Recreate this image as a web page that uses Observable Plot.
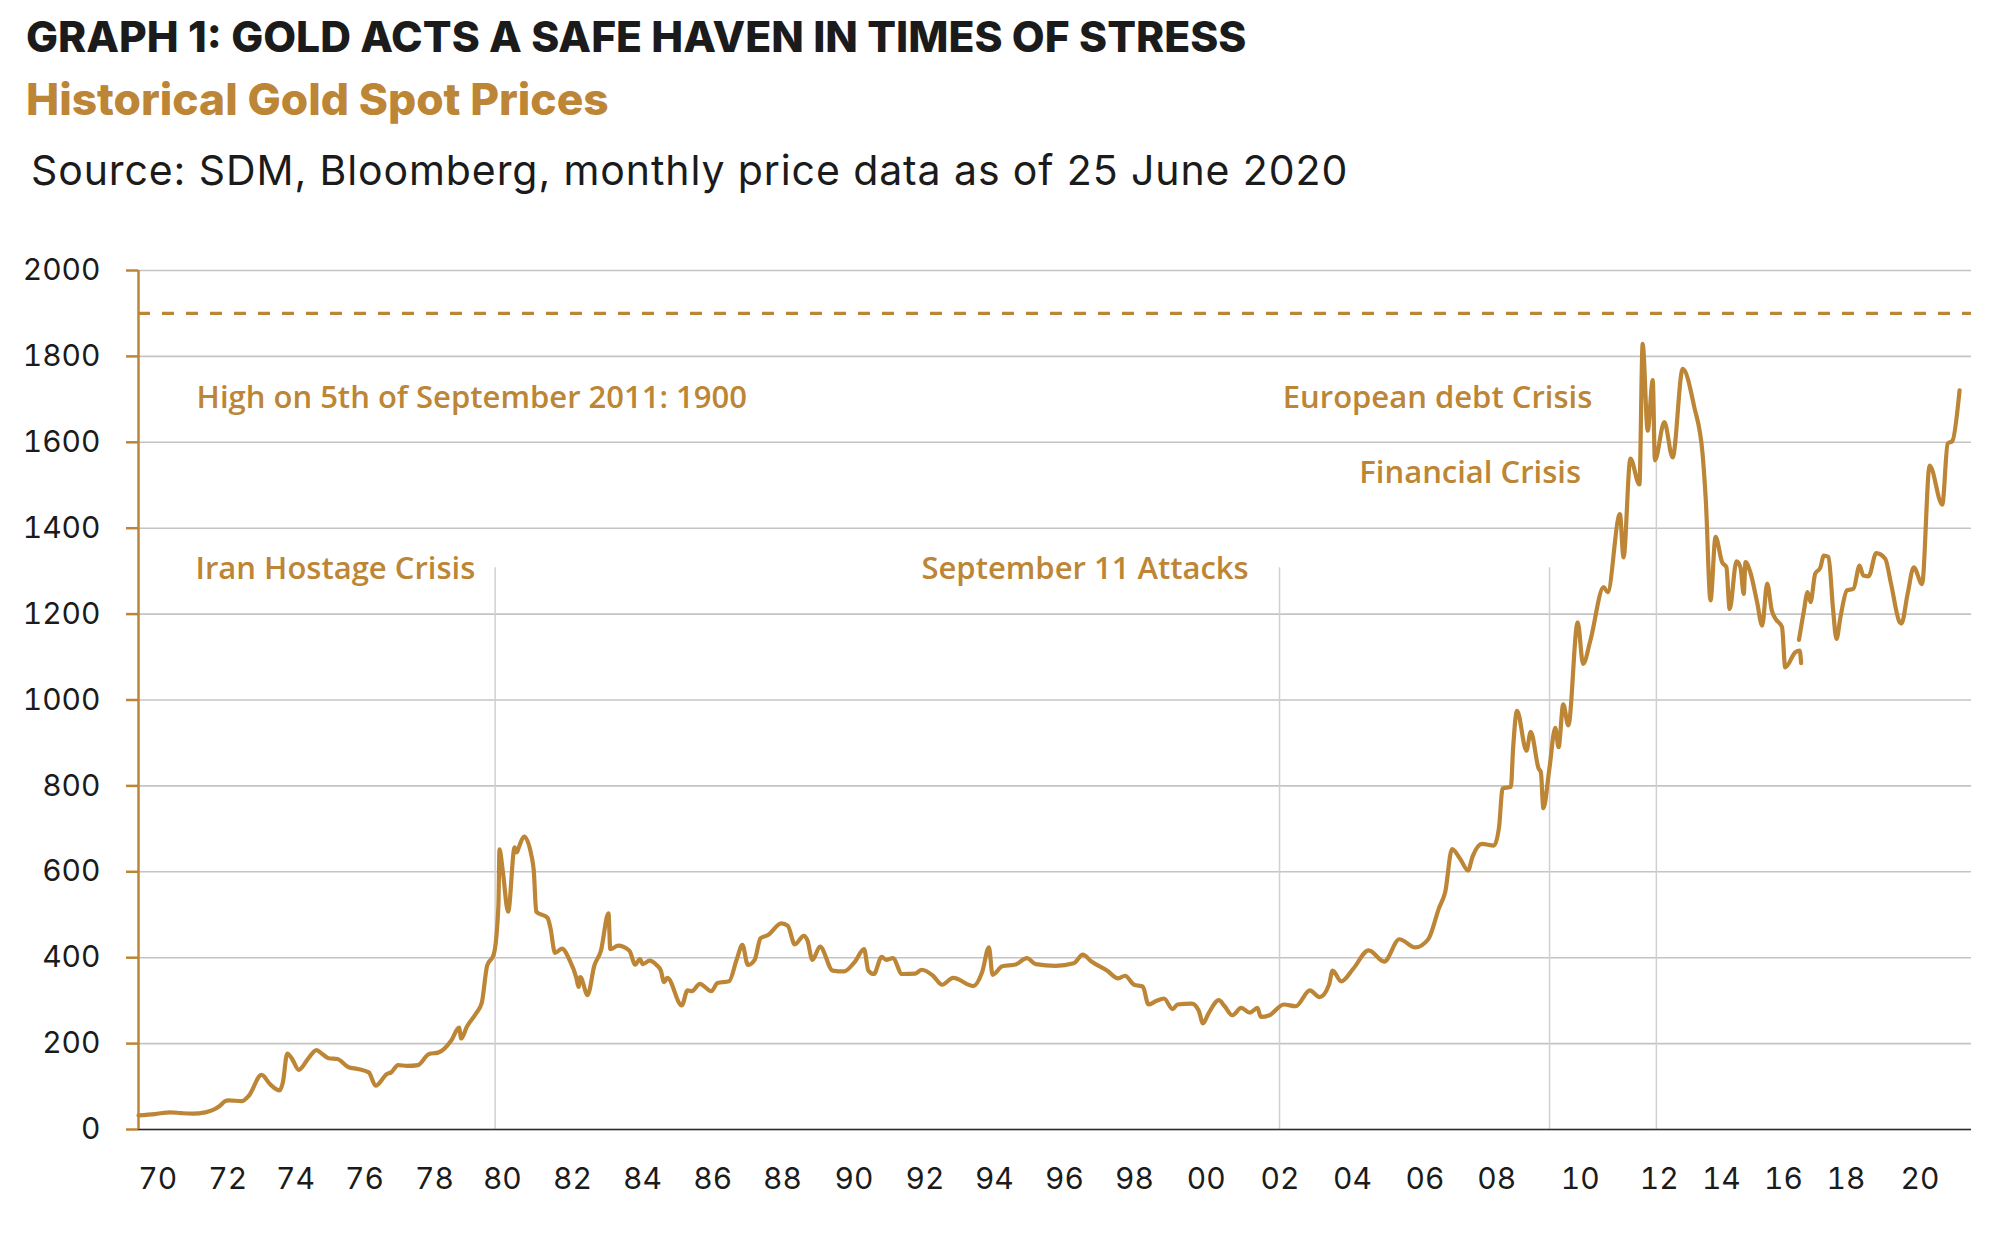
<!DOCTYPE html>
<html><head><meta charset="utf-8">
<script src="https://cdn.jsdelivr.net/npm/d3@7"></script>
<script src="https://cdn.jsdelivr.net/npm/@observablehq/plot@0.6"></script>
<style>
body{margin:0;background:#fff;}
#wrap{position:relative;width:2000px;}
#header{position:relative;height:220px;}
.t{position:absolute;white-space:nowrap;line-height:1;}
#title{left:26px;top:16px;font-family:Inter,sans-serif;font-weight:800;font-size:42.6px;color:#1b1b1b;}
#subtitle{left:26px;top:77px;font-family:Inter,sans-serif;font-weight:800;font-size:44.3px;color:#bd8536;}
#source{left:31px;top:150px;font-family:Inter,sans-serif;font-weight:400;font-size:41px;letter-spacing:0.9px;color:#1b1b1b;}
</style></head>
<body>
<div id="wrap">
  <div id="header">
    <div class="t" id="title">GRAPH 1: GOLD ACTS A SAFE HAVEN IN TIMES OF STRESS</div>
    <div class="t" id="subtitle">Historical Gold Spot Prices</div>
    <div class="t" id="source">Source: SDM, Bloomberg, monthly price data as of 25 June 2020</div>
  </div>
  <div id="chart"></div>
</div>
<script>
// ---- data (decimal year, USD/oz); NaN marks the break in the line ----
const years = [
1970.00,1970.45,1970.88,1971.20,1971.50,1971.85,1972.05,1972.24,1972.40,1972.49,1972.86,1973.05,1973.41,1973.65,1973.91,1974.00,1974.12,1974.25,1974.44,1974.70,1974.93,1975.10,1975.27,1975.51,1975.82,1976.07,1976.38,1976.57,1976.88,1977.00,1977.19,1977.45,1977.74,1978.05,1978.30,1978.67,1978.88,1978.94,1979.10,1979.35,1979.51,1979.66,1979.84,1979.97,1980.00,1980.09,1980.24,1980.42,1980.48,1980.55,1980.68,1980.89,1980.95,1981.02,1981.33,1981.41,1981.54,1981.73,1981.94,1982.13,1982.19,1982.24,1982.44,1982.63,1982.81,1983.02,1983.07,1983.29,1983.60,1983.76,1983.89,1983.97,1984.16,1984.35,1984.47,1984.56,1984.65,1985.05,1985.21,1985.33,1985.55,1985.87,1986.04,1986.36,1986.57,1986.73,1986.88,1987.07,1987.23,1987.44,1987.81,1987.99,1988.18,1988.43,1988.53,1988.67,1988.88,1989.23,1989.54,1989.85,1990.10,1990.22,1990.37,1990.59,1990.71,1990.90,1991.15,1991.52,1991.70,1992.01,1992.26,1992.57,1993.13,1993.37,1993.56,1993.66,1993.93,1994.30,1994.61,1994.86,1995.41,1995.91,1996.16,1996.40,1996.83,1997.14,1997.33,1997.58,1997.82,1997.98,1998.19,1998.41,1998.65,1998.78,1999.18,1999.37,1999.49,1999.64,1999.93,2000.09,2000.30,2000.55,2000.79,2001.00,2001.09,2001.33,2001.73,2002.06,2002.45,2002.72,2002.98,2003.08,2003.32,2003.65,2004.08,2004.51,2004.93,2005.37,2005.73,2006.03,2006.20,2006.39,2006.63,2006.83,2006.96,2007.22,2007.55,2007.69,2007.79,2008.02,2008.08,2008.19,2008.45,2008.57,2008.79,2008.85,2008.92,2009.08,2009.25,2009.34,2009.47,2009.61,2009.87,2010.02,2010.22,2010.59,2010.70,2011.04,2011.14,2011.33,2011.58,2011.67,2011.81,2011.95,2012.01,2012.27,2012.50,2012.78,2013.10,2013.33,2013.42,2013.55,2013.69,2013.87,2013.99,2014.08,2014.27,2014.38,2014.47,2014.52,2014.65,2014.84,2014.98,2015.12,2015.25,2015.35,2015.53,2015.62,2015.90,2016.02,2016.06,
2016.03,
2016.00,2016.13,2016.24,2016.32,2016.45,2016.59,2016.69,2016.82,2016.94,2017.04,2017.15,2017.33,2017.51,2017.68,2017.78,2017.93,2018.14,2018.39,2018.55,2018.79,2018.84,2019.01,2019.18,2019.41,2019.62,2019.97,2020.12,2020.25,2020.45
];
const prices = [
33,36,40,38,37,40,45,54,66,68,66,78,127,105,91,110,177,165,139,165,185,175,166,164,145,141,133,102,129,133,150,148,150,176,179,208,237,212,240,270,295,382,407,520,652,603,507,657,645,660,682,636,603,507,493,470,411,421,395,353,332,355,313,382,416,503,420,428,416,384,397,385,393,383,370,343,353,289,324,322,339,322,341,345,395,430,383,395,445,453,480,474,431,451,441,395,426,370,368,391,420,370,362,402,395,399,362,363,372,358,337,353,334,366,424,360,380,384,399,385,381,387,407,391,370,352,358,337,333,291,299,305,280,291,293,277,247,270,301,287,266,283,272,283,262,266,291,287,324,308,337,370,345,374,417,391,443,424,443,516,553,653,628,603,636,665,661,703,794,798,886,975,882,926,840,832,748,836,935,890,990,941,1181,1084,1138,1263,1251,1433,1332,1562,1502,1829,1627,1745,1558,1647,1565,1771,1682,1573,1464,1232,1380,1321,1309,1212,1323,1309,1247,1321,1298,1228,1173,1271,1208,1189,1170,1076,1111,1115,1086,
NaN,
1140,1204,1251,1228,1294,1308,1336,1333,1216,1142,1193,1255,1259,1313,1290,1288,1342,1329,1271,1181,1178,1247,1309,1270,1546,1455,1597,1603,1721
];

// axis ticks
const yTicks = [0,200,400,600,800,1000,1200,1400,1600,1800,2000];
const tickYears = [1970.53,1972.47,1974.35,1976.26,1978.20,1980.08,1982.02,1983.96,1985.91,1987.84,1989.82,1991.79,1993.71,1995.65,1997.59,1999.58,2001.62,2003.63,2005.64,2007.63,2009.94,2012.13,2013.85,2015.57,2017.30,2019.35];
const tickLabels = ["70","72","74","76","78","80","82","84","86","88","90","92","94","96","98","00","02","04","06","08","10","12","14","16","18","20"];

// reference level and event markers
const highValue = 1900;
const eventYears = [1979.88, 2001.61, 2009.09, 2012.05];
const eventTops  = [1308, 1308, 1308, 1553];

// annotations (anchor in data units)
const annoText  = ["High on 5th of September 2011: 1900","Iran Hostage Crisis","September 11 Attacks","European debt Crisis","Financial Crisis"];
const annoYear  = [1971.61, 1971.58, 1991.69, 2001.70, 2003.82];
const annoValue = [1704, 1305, 1305, 1704, 1528];

// ---- build tables ----
const series = years.map((t, i) => ({t, v: prices[i]}));
const events = eventYears.map((t, i) => ({t, top: eventTops[i]}));
const annos = annoText.map((label, i) => ({label, t: annoYear[i], v: annoValue[i]}));
const labelMap = new Map(tickYears.map((t, i) => [t, tickLabels[i]]));

const gold = "#bd8536";
const ink = "#1b1b1b";

const chart = Plot.plot({
  width: 2000,
  height: 1014,
  marginTop: 50,
  marginBottom: 105,
  marginLeft: 138,
  marginRight: 29,
  style: {fontFamily: "Inter, sans-serif", background: "#fff", overflow: "visible"},
  x: {type: "linear", domain: [1970, 2020.78], axis: null},
  y: {domain: [0, 2000], axis: null},
  marks: [
    Plot.gridY(yTicks, {stroke: "#c4c4c4", strokeOpacity: 1, strokeWidth: 1.6}),
    Plot.ruleX(events, {x: "t", y1: 0, y2: "top", stroke: "#d0d0d0", strokeWidth: 1.5}),
    Plot.ruleY([highValue], {stroke: gold, strokeWidth: 3.2, strokeDasharray: "12,12"}),
    Plot.ruleY([0], {stroke: "#2b2b2b", strokeWidth: 1.6}),
    Plot.line(series, {x: "t", y: "v", stroke: gold, strokeWidth: 4.2, curve: "monotone-x", strokeLinejoin: "round", strokeLinecap: "round"}),
    Plot.ruleX([1970], {y1: 0, y2: 2000, stroke: gold, strokeWidth: 2.5}),
    Plot.axisY(yTicks, {tickSize: 12, tickPadding: 26, tickFormat: d => String(d), stroke: gold, strokeWidth: 2.5, fill: ink, fontSize: 30, label: null}),
    Plot.axisX(tickYears, {tickSize: 0, tickPadding: 38, tickFormat: d => labelMap.get(d), fill: ink, fontSize: 30, label: null}),
    Plot.text(annos, {x: "t", y: "v", text: "label", textAnchor: "start", lineAnchor: "middle", fill: gold, fontFamily: "Open Sans, sans-serif", fontWeight: 600, fontSize: 31})
  ]
});
document.getElementById("chart").appendChild(chart);
</script>
</body></html>
